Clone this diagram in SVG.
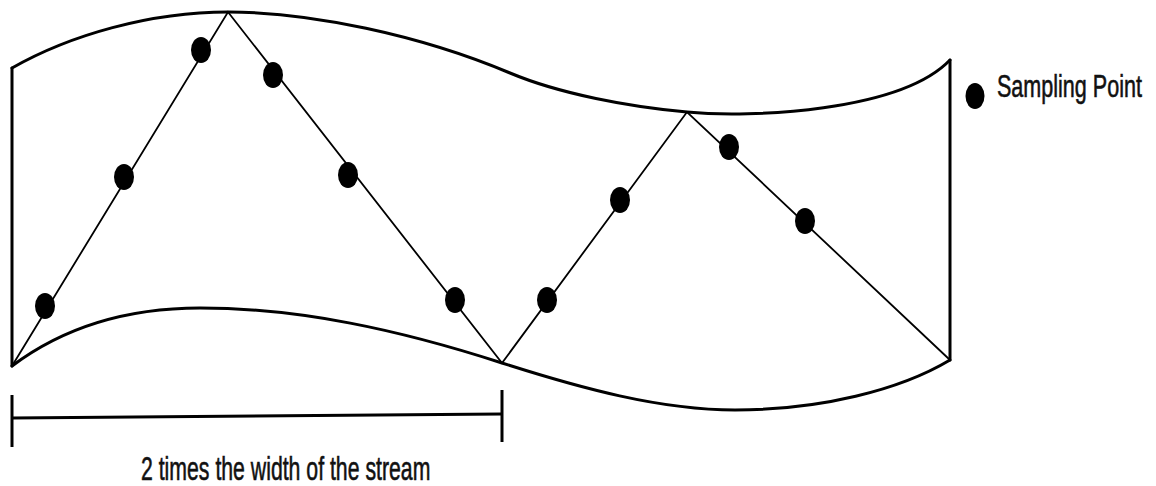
<svg xmlns="http://www.w3.org/2000/svg" width="1156" height="486" viewBox="0 0 1156 486">
  <style>
    .bank { fill: none; stroke: #000; stroke-width: 3; stroke-linejoin: round; stroke-linecap: round; }
    .path { fill: none; stroke: #000; stroke-width: 1.8; stroke-linejoin: miter; }
    .pt { fill: #000; }
    .bar { fill: none; stroke: #000; stroke-width: 3; }
    .lbl { font-family: "Liberation Sans", Arial, sans-serif; fill: #111; stroke: #111; stroke-width: 0.6; }
  </style>
  <rect width="1156" height="486" fill="#fff"/>
  <g id="stream">
    <path class="bank" d="M12,68 C70,35 150,12 228,12 C310,12 420,35 510,73 C560,94 630,107 687,112 C750,118 900,112 950,60"/>
    <path class="bank" d="M12,366 C60,330 120,308 200,308 C300,308 400,330 502,363 C580,388 660,410 735,410 C820,410 900,390 950,360"/>
    <line class="bank" x1="12" y1="68" x2="12" y2="366"/>
    <line class="bank" x1="950" y1="60" x2="950" y2="360"/>
  </g>
  <g id="connectors">
    <polyline class="path" points="12,366 228,12 502,363 687,112 950,360"/>
  </g>
  <g id="sampling-points">
    <ellipse class="pt" cx="45" cy="306" rx="10" ry="13"/>
    <ellipse class="pt" cx="124" cy="177" rx="10" ry="13"/>
    <ellipse class="pt" cx="201" cy="50" rx="10" ry="13"/>
    <ellipse class="pt" cx="273" cy="75" rx="10" ry="13"/>
    <ellipse class="pt" cx="348" cy="175" rx="10" ry="13"/>
    <ellipse class="pt" cx="455" cy="300" rx="10" ry="13"/>
    <ellipse class="pt" cx="547" cy="300" rx="10" ry="13"/>
    <ellipse class="pt" cx="620" cy="200" rx="10" ry="13"/>
    <ellipse class="pt" cx="729" cy="147" rx="10" ry="13"/>
    <ellipse class="pt" cx="805" cy="221" rx="10" ry="13"/>
  </g>
  <g id="legend">
    <ellipse class="pt" cx="975" cy="96" rx="9.5" ry="13"/>
    <text class="lbl" transform="translate(997,97) scale(0.674,1)" x="0" y="0" font-size="32">Sampling Point</text>
  </g>
  <g id="scale-bar">
    <line class="bar" x1="12" y1="395" x2="12" y2="447"/>
    <line class="bar" x1="502" y1="390" x2="502" y2="442"/>
    <line class="bar" x1="12" y1="418" x2="502" y2="414"/>
    <text class="lbl" transform="translate(141,480) scale(0.644,1)" x="0" y="0" font-size="33">2 times the width of the stream</text>
  </g>
</svg>
